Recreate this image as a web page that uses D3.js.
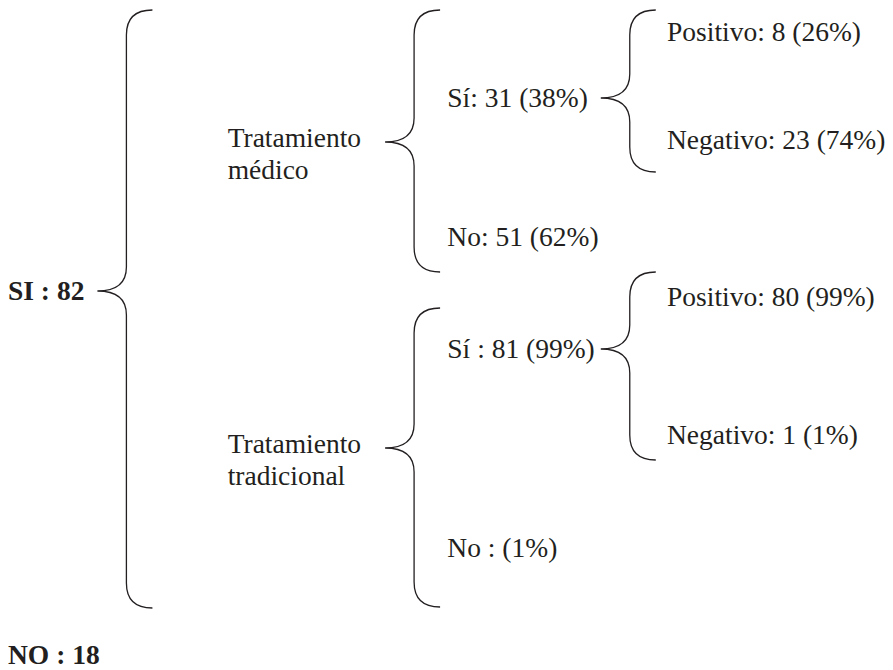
<!DOCTYPE html>
<html>
<head>
<meta charset="utf-8">
<script src="https://cdn.jsdelivr.net/npm/d3@7"></script>
<style>
  html, body { margin: 0; padding: 0; background: #fff; }
  svg { display: block; }
  text { font-family: "Liberation Serif", "Times New Roman", serif; font-size: 27.5px; fill: #231f20; }
</style>
</head>
<body>
<script>
// tree: ids, parent ids, label lines
const nodeIds = ["si", "med", "med_si", "med_pos", "med_neg", "med_no",
                 "trad", "trad_si", "trad_pos", "trad_neg", "trad_no", "no"];
const parentIds = ["root", "si", "med", "med_si", "med_si", "med",
                   "si", "trad", "trad_si", "trad_si", "trad", "root"];
const labels = [
    ["SI : 82"],
    ["Tratamiento", "médico"],
    ["Sí: 31 (38%)"],
    ["Positivo: 8 (26%)"],
    ["Negativo: 23 (74%)"],
    ["No: 51 (62%)"],
    ["Tratamiento", "tradicional"],
    ["Sí : 81 (99%)"],
    ["Positivo: 80 (99%)"],
    ["Negativo: 1 (1%)"],
    ["No : (1%)"],
    ["NO : 18"]
];
const boldIds = ["si", "no"];

// layout (rows of 10px): brace-tip row of every node, span of every brace
const nodeRow = [29.1, 14.2, 9.8, 3.2, 14.0, 23.7, 44.8, 34.9, 29.7, 43.5, 54.8, 65.5];
const braceIds = ["si", "med", "med_si", "trad", "trad_si"];
const braceTop = [1.0, 1.0, 1.0, 30.8, 27.2];
const braceBottom = [60.8, 27.2, 17.2, 60.7, 46.0];
const tipGap = [13, 24, 6]; // space between a column's widest label and its braces

const width = 893, height = 670;
const lineGap = 32;

const svg = d3.select("body").append("svg")
    .attr("width", width)
    .attr("height", height);

const y = d3.scaleLinear().domain([0, 67]).range([0, height]);
const colX = d3.scaleLinear().domain([0, 3]).range([8, 667]);

const table = nodeIds.map((id, i) => ({
    id: id, parent: parentIds[i], lines: labels[i], row: nodeRow[i]
}));
table.push({ id: "root", parent: null, lines: [], row: 0 });

const root = d3.stratify().id(d => d.id).parentId(d => d.parent)(table);
const nodes = root.descendants().filter(d => d.depth > 0);

// labels: first line sits level with the brace tip
const g = svg.selectAll("g.node")
    .data(nodes)
    .join("g")
    .attr("class", "node");

g.each(function(d) {
    const sel = d3.select(this);
    const n = d.data.lines.length;
    d.data.lines.forEach((line, k) => {
        sel.append("text")
            .attr("x", colX(d.depth - 1))
            .attr("y", y(d.data.row) + (n > 1 ? k * lineGap - 4 : 0))
            .attr("dy", "0.33em")
            .style("font-weight", boldIds.includes(d.id) ? "bold" : null)
            .text(line);
    });
    d.textWidth = d3.max(sel.selectAll("text").nodes(), t => t.getComputedTextLength());
});

// braces line up per column, right of the widest label that owns a brace
const byId = new Map(nodes.map(d => [d.id, d]));
const colRight = d3.rollup(braceIds.map(id => byId.get(id)),
    v => d3.max(v, d => d.textWidth), d => d.depth - 1);

function bracePath(d, top, bottom) {
    const col = d.depth - 1;
    const xt = colX(col) + colRight.get(col) + tipGap[col];
    const xs = xt + 29;
    const xe = xs + 26;
    const ty = y(d.data.row);
    const r = 25, r2 = 24;
    const p = d3.path();
    p.moveTo(xe, top);
    p.quadraticCurveTo(xs, top, xs, top + r);
    p.lineTo(xs, ty - r2);
    p.quadraticCurveTo(xs, ty, xt, ty);
    p.quadraticCurveTo(xs, ty, xs, ty + r2);
    p.lineTo(xs, bottom - r);
    p.quadraticCurveTo(xs, bottom, xe, bottom);
    return p.toString();
}

svg.selectAll("path.brace")
    .data(braceIds)
    .join("path")
    .attr("class", "brace")
    .attr("d", (id, i) => bracePath(byId.get(id), y(braceTop[i]), y(braceBottom[i])))
    .attr("fill", "none")
    .attr("stroke", "#231f20")
    .attr("stroke-width", 1.3);
</script>
</body>
</html>
